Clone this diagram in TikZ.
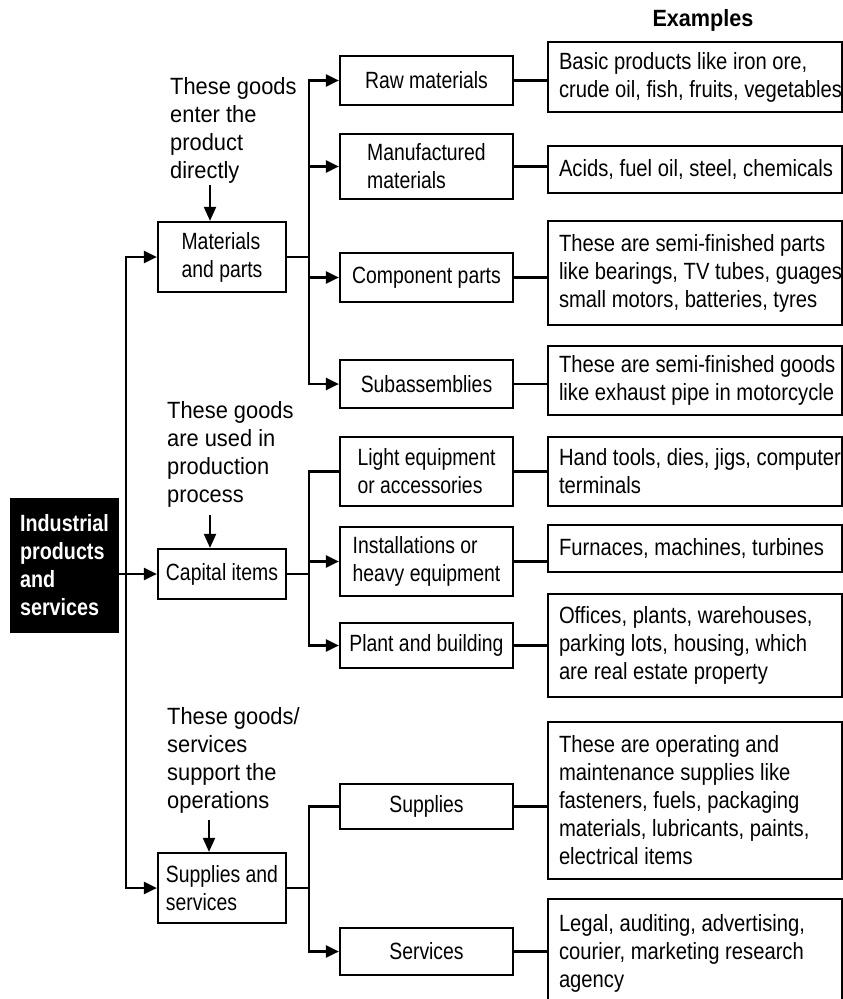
\documentclass[tikz,border=0pt]{standalone}
\usepackage{fontspec}
\setmainfont{Liberation Sans}
\newfontfamily\annfont{Liberation Sans}[FakeStretch=0.93]
\newfontfamily\boxfont{Liberation Sans}[FakeStretch=0.825]
\newfontfamily\exfont{Liberation Sans}[FakeStretch=0.86]
\newfontfamily\blkfont{Liberation Sans}[FakeStretch=0.84]
\newfontfamily\hdrfont{Liberation Sans}[FakeStretch=0.92]
\usetikzlibrary{arrows.meta}
\tikzset{
  ln/.style={line width=2.3pt, line join=miter},
  tip/.tip={Triangle[length=13pt,width=12pt]},
  arr/.style={ln, -tip},
  arrn/.style={line width=2pt, -{Triangle[length=14pt,width=12pt]}},
  boxbase/.style={draw, line width=2.2pt, inner sep=0pt, align=flush left},
  leftbox/.style={boxbase, minimum width=128pt, font=\boxfont\fontsize{23.5}{28}\selectfont},
  midbox/.style={boxbase, minimum width=173pt, font=\boxfont\fontsize{23.5}{28}\selectfont},
  exbox/.style={boxbase, text width=272pt, inner xsep=11pt, font=\exfont\fontsize{23.5}{28}\selectfont},
  note/.style={anchor=north west, inner sep=0pt, align=flush left, font=\annfont\fontsize{23.5}{28}\selectfont},
  blk/.style={fill=black, text=white, inner sep=0pt, align=flush left, minimum width=109pt, minimum height=135pt, font=\blkfont\bfseries\fontsize{23.5}{28}\selectfont}
}
\begin{document}
\begin{tikzpicture}[x=1pt,y=-1pt]
\useasboundingbox (0,0) rectangle (843,999);
\clip (0,0) rectangle (843,999);

% header
\node[font=\hdrfont\bfseries\fontsize{23.5}{28}\selectfont] (hdr) at (703,20) {Examples};

% root
\node[blk] (root) at (64.5,565.5) {Industrial\\products\\and\\services};

% level 1
\node[leftbox, minimum height=70pt] (mat) at (222,257) {Materials\\and parts};
\node[leftbox, minimum height=50pt] (cap) at (222,574) {Capital items};
\node[leftbox, minimum height=70pt] (sup) at (222,888) {Supplies and\\services};

% annotations
\node[note] (n1) at (170,77) {These goods\\enter the\\product\\directly};
\node[note] (n2) at (167,401) {These goods\\are used in\\production\\process};
\node[note] (n3) at (167,707) {These goods/\\services\\support the\\operations};
\coordinate (a1) at (210,185);
\coordinate (a2) at (210,515);
\coordinate (a3) at (209,820);
\draw[arrn] (a1) -- (a1 |- mat.north);
\draw[arrn] (a2) -- (a2 |- cap.north);
\draw[arrn] (a3) -- (a3 |- sup.north);

% level 2
\node[midbox, minimum height=49pt] (raw) at (426.5,80.5) {Raw materials};
\node[midbox, minimum height=65pt] (manu) at (426.5,166.5) {Manufactured\\materials};
\node[midbox, minimum height=49pt] (comp) at (426.5,277.5) {Component parts};
\node[midbox, minimum height=48pt] (subas) at (426.5,384) {Subassemblies};
\node[midbox, minimum height=69pt] (light) at (426.5,471.5) {Light equipment\\or accessories};
\node[midbox, minimum height=69pt] (inst) at (426.5,561.5) {Installations or\\heavy equipment};
\node[midbox, minimum height=45pt] (plant) at (426.5,645.5) {Plant and building};
\node[midbox, minimum height=45pt] (supl) at (426.5,806.5) {Supplies};
\node[midbox, minimum height=47pt] (serv) at (426.5,951.5) {Services};

% examples
\node[exbox, minimum height=70pt] (e1) at (695,77) {\mbox{Basic products like iron ore,}\\\mbox{crude oil, fish, fruits, vegetables}};
\node[exbox, minimum height=47pt] (e2) at (695,169.5) {\mbox{Acids, fuel oil, steel, chemicals}};
\node[exbox, minimum height=104pt] (e3) at (695,273) {\mbox{These are semi-finished parts}\\\mbox{like bearings, TV tubes, guages,}\\\mbox{small motors, batteries, tyres}};
\node[exbox, minimum height=69pt] (e4) at (695,380.5) {\mbox{These are semi-finished goods}\\\mbox{like exhaust pipe in motorcycle}};
\node[exbox, minimum height=69pt] (e5) at (695,471.5) {\mbox{Hand tools, dies, jigs, computer}\\\mbox{terminals}};
\node[exbox, minimum height=47pt] (e6) at (695,548.5) {\mbox{Furnaces, machines, turbines}};
\node[exbox, minimum height=103pt] (e7) at (695,645.5) {\mbox{Offices, plants, warehouses,}\\\mbox{parking lots, housing, which}\\\mbox{are real estate property}};
\node[exbox, minimum height=157pt] (e8) at (695,800.5) {\mbox{These are operating and}\\\mbox{maintenance supplies like}\\\mbox{fasteners, fuels, packaging}\\\mbox{materials, lubricants, paints,}\\\mbox{electrical items}};
\node[exbox, minimum height=108pt] (e9) at (695,953) {\mbox{Legal, auditing, advertising,}\\\mbox{courier, marketing research}\\\mbox{agency}};

% trunk from root
\coordinate (tr) at (126,888);
\draw[ln, tip-tip] (mat.west) -| (tr) -- (sup.west);
\draw[arr] (root.east |- cap.west) -- (cap.west);

% materials branch
\coordinate (b1) at (309,384);
\draw[ln, tip-tip] (raw.west) -| (b1) -- (subas.west);
\draw[arr] (b1 |- manu.west) -- (manu.west);
\draw[arr] (b1 |- comp.west) -- (comp.west);
\draw[ln] (mat.east) -- (mat.east -| b1);

% capital branch
\coordinate (b2) at (309,645.5);
\draw[ln, -tip] (light.west) -| (b2) -- (plant.west);
\draw[arr] (b2 |- inst.west) -- (inst.west);
\draw[ln] (cap.east) -- (cap.east -| b2);

% supplies branch
\coordinate (b3) at (309,951.5);
\draw[ln, -tip] (supl.west) -| (b3) -- (serv.west);
\draw[ln] (sup.east) -- (sup.east -| b3);

% to examples
\draw[ln] (raw.east) -- (raw.east -| e1.west);
\draw[ln] (manu.east) -- (manu.east -| e2.west);
\draw[ln] (comp.east) -- (comp.east -| e3.west);
\draw[ln] (subas.east) -- (subas.east -| e4.west);
\draw[ln] (light.east) -- (light.east -| e5.west);
\draw[ln] (inst.east) -- (inst.east -| e6.west);
\draw[ln] (plant.east) -- (plant.east -| e7.west);
\draw[ln] (supl.east) -- (supl.east -| e8.west);
\draw[ln] (serv.east) -- (serv.east -| e9.west);
\end{tikzpicture}
\end{document}
